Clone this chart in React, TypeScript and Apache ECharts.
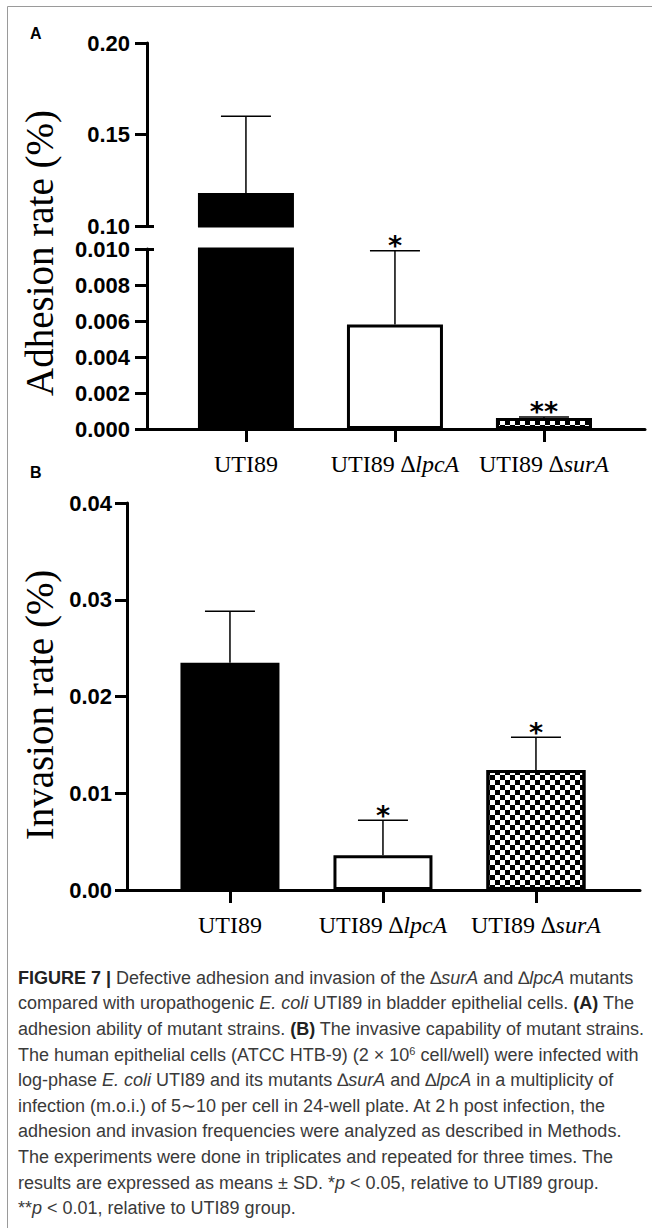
import React, { useEffect, useRef } from 'react';
import * as echarts from 'echarts';

// ---------- data ----------
const categories = ['UTI89', 'UTI89 ∆lpcA', 'UTI89 ∆surA'];
const categoryRich = ['UTI89', 'UTI89 ∆{i|lpcA}', 'UTI89 ∆{i|surA}'];
const categoryIdx = [0, 1, 2];

const adhesionMean = [0.118, 0.0058, 0.00061];
const adhesionSD = [0.042, 0.0041, 0.00006];
const adhesionSig = ['', '*', '**'];

const invasionMean = [0.0235, 0.0036, 0.0124];
const invasionSD = [0.0053, 0.0036, 0.0034];
const invasionSig = ['', '*', '*'];

// axis ranges [min, max, interval]
const adhUpperAxis = [0.1, 0.2, 0.05];
const adhLowerAxis = [0, 0.01, 0.002];
const invAxis = [0, 0.04, 0.01];

const captionLines = [
  '{b|FIGURE 7 |} Defective adhesion and invasion of the ∆{i|surA} and ∆{i|lpcA} mutants',
  'compared with uropathogenic {i|E. coli} UTI89 in bladder epithelial cells. {b|(A)} The',
  'adhesion ability of mutant strains. {b|(B)} The invasive capability of mutant strains.',
  'The human epithelial cells (ATCC HTB-9) (2 × 10{sup|6} cell/well) were infected with',
  'log-phase {i|E. coli} UTI89 and its mutants ∆{i|surA} and ∆{i|lpcA} in a multiplicity of',
  'infection (m.o.i.) of 5∼10 per cell in 24-well plate. At 2\u2009h post infection, the',
  'adhesion and invasion frequencies were analyzed as described in Methods.',
  'The experiments were done in triplicates and repeated for three times. The',
  'results are expressed as means ± SD. *{i|p} < 0.05, relative to UTI89 group.',
  '**{i|p} < 0.01, relative to UTI89 group.',
];

// ---------- styles ----------
const SANS = 'Liberation Sans';
const SERIF = 'Liberation Serif';
const barFill = ['#000', '#fff', '#fff'];
const checker = {
  symbol: 'rect',
  symbolSize: 1,
  dashArrayX: [[5, 5], [0, 5, 5, 0]],
  dashArrayY: [5, 0],
  rotation: 0,
  color: '#000',
  backgroundColor: '#fff',
};

function yAxis(gridIndex: number, r: number[], digits: number, margin: number) {
  return {
    type: 'value',
    gridIndex,
    min: r[0],
    max: r[1],
    interval: r[2],
    axisLine: { show: true, onZero: false, lineStyle: { color: '#000', width: 3 } },
    axisTick: { show: true, length: 12, lineStyle: { color: '#000', width: 3 } },
    axisLabel: {
      formatter: (v: number) => v.toFixed(digits),
      color: '#000',
      fontFamily: SANS,
      fontWeight: 'bold',
      fontSize: 22,
      margin,
    },
    splitLine: { show: false },
  };
}

function stubAxis(gridIndex: number, r: number[], v: number) {
  return {
    type: 'value',
    gridIndex,
    min: r[0],
    max: r[1],
    interval: r[2],
    position: 'left',
    axisLine: { show: false, onZero: false },
    axisTick: { show: true, inside: true, length: 7, customValues: [v], lineStyle: { color: '#000', width: 3 } },
    axisLabel: { show: false },
    splitLine: { show: false },
  };
}

function xAxis(gridIndex: number, min: number, max: number, show: boolean) {
  return {
    type: 'value',
    gridIndex,
    min,
    max,
    show,
    axisLine: { show: true, onZero: false, lineStyle: { color: '#000', width: 3 } },
    axisTick: { show: true, length: 13, customValues: categoryIdx, lineStyle: { color: '#000', width: 3 } },
    axisLabel: {
      customValues: categoryIdx,
      formatter: (v: number) => categoryRich[Math.round(v)],
      color: '#000',
      fontFamily: SERIF,
      fontSize: 24,
      margin: 23,
      rich: {
        i: { fontFamily: SERIF, fontSize: 24, fontStyle: 'italic', color: '#000' },
      },
    },
    splitLine: { show: false },
  };
}

function barSeries(idx: number, mean: number[], lo: number, hi: number, width: number) {
  return {
    type: 'bar',
    xAxisIndex: idx,
    yAxisIndex: idx,
    barWidth: width,
    clip: true,
    silent: true,
    z: 2,
    data: mean.map((v, i) => ({
      value: v >= lo ? [i, v] : [i, '-'],
      itemStyle: {
        color: barFill[i],
        borderColor: '#000',
        borderWidth: 3,
        decal: i === 2 ? checker : undefined,
      },
    })),
  };
}

function errSeries(idx: number, mean: number[], sd: number[], sig: string[], lo: number, hi: number) {
  return {
    type: 'custom',
    xAxisIndex: idx,
    yAxisIndex: idx,
    z: 5,
    silent: true,
    encode: { x: 0, y: 1 },
    data: mean.map((m, i) => [i, m, sd[i]]),
    renderItem: (params: any, api: any) => {
      const i = params.dataIndex;
      const x = api.value(0);
      const m = api.value(1);
      const s = api.value(2);
      if (m < lo || m > hi) return null;
      const p0 = api.coord([x, m]);
      const p1 = api.coord([x, m + s]);
      const ls = { stroke: '#000', lineWidth: 1.5 };
      const children: any[] = [
        { type: 'line', shape: { x1: p0[0], y1: p0[1], x2: p1[0], y2: p1[1] }, style: ls },
        { type: 'line', shape: { x1: p1[0] - 25, y1: p1[1], x2: p1[0] + 25, y2: p1[1] }, style: ls },
      ];
      if (sig[i]) {
        children.push({
          type: 'text',
          x: p1[0],
          y: p1[1] - 5,
          style: {
            text: sig[i],
            fill: '#000',
            fontFamily: 'DejaVu Sans',
            fontWeight: 'bold',
            fontSize: 27,
            align: 'center',
            verticalAlign: 'middle',
          },
        });
      }
      return { type: 'group', children };
    },
  };
}

const capBase = { fontFamily: SANS, fontSize: 18 };
const captionRich = {
  b: { ...capBase, fontWeight: 'bold', fill: '#222' },
  i: { ...capBase, fontStyle: 'italic', fill: '#3a3a3a' },
  sup: { fontFamily: SANS, fontSize: 11, fill: '#3a3a3a', verticalAlign: 'top' },
};

export default function App() {
  const ref = useRef<HTMLDivElement>(null);

  useEffect(() => {
    document.body.style.margin = '0';
    if (!ref.current) return;
    const chart = echarts.init(ref.current, null, { renderer: 'svg' });

    const graphic: any[] = [
      { type: 'line', shape: { x1: 7.5, y1: 6.5, x2: 652, y2: 6.5 }, style: { stroke: '#9a9a9a', lineWidth: 1 } },
      { type: 'line', shape: { x1: 7.5, y1: 6.5, x2: 7.5, y2: 1228 }, style: { stroke: '#9a9a9a', lineWidth: 1 } },
      { type: 'text', x: 30, y: 33, style: { text: 'A', fontFamily: SANS, fontWeight: 'bold', fontSize: 16, fill: '#000', verticalAlign: 'middle' } },
      { type: 'text', x: 30, y: 472, style: { text: 'B', fontFamily: SANS, fontWeight: 'bold', fontSize: 16, fill: '#000', verticalAlign: 'middle' } },
      {
        type: 'text', x: 39, y: 253, rotation: Math.PI / 2,
        style: { text: 'Adhesion rate (%)', fontFamily: SERIF, fontSize: 39, fill: '#000', align: 'center', verticalAlign: 'middle' },
      },
      {
        type: 'text', x: 39, y: 705, rotation: Math.PI / 2,
        style: { text: 'Invasion rate (%)', fontFamily: SERIF, fontSize: 39, fill: '#000', align: 'center', verticalAlign: 'middle' },
      },
    ];
    captionLines.forEach((line, k) => {
      graphic.push({
        type: 'text',
        x: 18,
        y: 977.7 + 25.6 * k,
        style: {
          text: line,
          ...capBase,
          fill: '#3a3a3a',
          verticalAlign: 'middle',
          rich: captionRich,
        },
      });
    });

    chart.setOption({
      animation: false,
      backgroundColor: '#fff',
      grid: [
        { left: 147, right: 7, top: 43, height: 183 },
        { left: 147, right: 7, top: 249, height: 180 },
        { left: 127, right: 12, top: 503, height: 387 },
      ],
      xAxis: [
        xAxis(0, -0.664, 2.678, false),
        xAxis(1, -0.664, 2.678, true),
        xAxis(2, -0.673, 2.68, true),
      ],
      yAxis: [
        yAxis(0, adhUpperAxis, 2, 17),
        yAxis(1, adhLowerAxis, 3, 17),
        yAxis(2, invAxis, 2, 15),
        stubAxis(0, adhUpperAxis, adhUpperAxis[0]),
        stubAxis(1, adhLowerAxis, adhLowerAxis[1]),
      ],
      series: [
        barSeries(0, adhesionMean, adhUpperAxis[0], adhUpperAxis[1], 96),
        barSeries(1, adhesionMean, adhLowerAxis[0], adhLowerAxis[1], 96),
        barSeries(2, invasionMean, invAxis[0], invAxis[1], 99),
        errSeries(0, adhesionMean, adhesionSD, adhesionSig, adhUpperAxis[0], adhUpperAxis[1]),
        errSeries(1, adhesionMean, adhesionSD, adhesionSig, adhLowerAxis[0], adhLowerAxis[1]),
        errSeries(2, invasionMean, invasionSD, invasionSig, invAxis[0], invAxis[1]),
      ],
      graphic,
    });

    return () => chart.dispose();
  }, []);

  return <div ref={ref} style={{ width: 652, height: 1228 }} />;
}
